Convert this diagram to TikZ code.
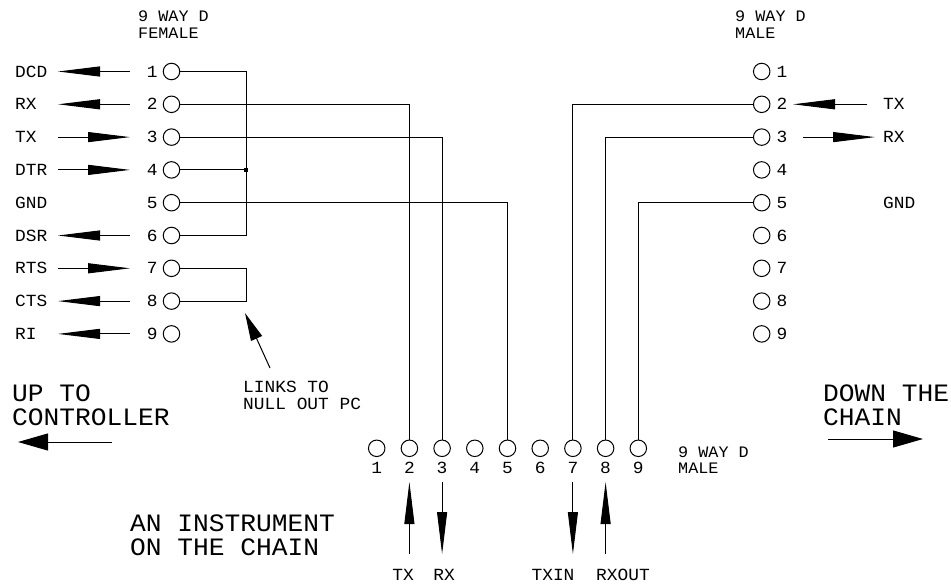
\documentclass[tikz,border=0pt]{standalone}
\usepackage{fontspec}
\setmainfont{Liberation Mono}[FakeStretch=1.05]
\usetikzlibrary{arrows.meta}

\begin{document}
\begin{tikzpicture}[
  x=1pt, y=-1pt,
  pin/.style={circle, draw, line width=1pt, minimum size=16.5pt, inner sep=0pt},
  sig/.style={font=\fontsize{17}{15}\selectfont, inner sep=0pt, align=left},
  head/.style={font=\fontsize{16}{16.5}\selectfont, inner sep=0pt, align=left},
  big/.style={font=\fontsize{25}{24}\selectfont, inner sep=0pt, align=left},
  line/.style={line width=1pt},
  feed/.style={line width=1pt, -{Triangle[length=42pt, width=10pt]}},
  chain/.style={line width=1pt, -{Triangle[length=30pt, width=17pt]}}
]
\useasboundingbox (0,0) rectangle (951,586);

% three connectors
\foreach \i in {1,...,9} {
  \node[pin, label={[sig, label distance=5pt]left:\i}] (fpin\i) at (171.5, 71.5+32.8*\i-32.8) {};
  \node[pin, label={[sig, label distance=6pt]right:\i}] (mpin\i) at (761.7, 71.5+32.8*\i-32.8) {};
  \node[pin, label={[sig, label distance=5pt]below:\i}] (bpin\i) at (376.7+32.7*\i-32.7, 448.3) {};
}
\node[head, anchor=north west] (fhead) at (138,11) {9 WAY D\\FEMALE};
\node[head, anchor=north west] (mhead) at (735,11) {9 WAY D\\MALE};
\node[head, anchor=north west] (bhead) at (678,446.5) {9 WAY D\\MALE};

% female side signals
\node[sig, anchor=west] (dcd) at (15,71.5) {DCD};
\node[sig, anchor=west] (frx) at (15,104.3) {RX};
\node[sig, anchor=west] (ftx) at (15,137.1) {TX};
\node[sig, anchor=west] (dtr) at (15,169.9) {DTR};
\node[sig, anchor=west] (fgnd) at (15,202.7) {GND};
\node[sig, anchor=west] (dsr) at (15,235.5) {DSR};
\node[sig, anchor=west] (rts) at (15,268.3) {RTS};
\node[sig, anchor=west] (cts) at (15,301.1) {CTS};
\node[sig, anchor=west] (ri) at (15,333.9) {RI};
\coordinate (fout) at (58,0);
\coordinate (fin) at (130,0);
\draw[feed] (fpin1 -| fin) -- (fpin1 -| fout);
\draw[feed] (fpin2 -| fin) -- (fpin2 -| fout);
\draw[feed] (fpin3 -| fout) -- (fpin3 -| fin);
\draw[feed] (fpin4 -| fout) -- (fpin4 -| fin);
\draw[feed] (fpin6 -| fin) -- (fpin6 -| fout);
\draw[feed] (fpin7 -| fout) -- (fpin7 -| fin);
\draw[feed] (fpin8 -| fin) -- (fpin8 -| fout);
\draw[feed] (fpin9 -| fin) -- (fpin9 -| fout);

% links on the female side
\coordinate (bus) at (246,0);
\draw[line] (fpin1.east) -- (fpin1 -| bus) |- (fpin6.east);
\draw[line] (fpin4.east) -- (fpin4 -| bus);
\node[fill, minimum size=4pt, inner sep=0pt] (dot) at (fpin4 -| bus) {};
\draw[line] (fpin7.east) -- (fpin7 -| bus) |- (fpin8.east);
\node[sig, anchor=north west, font=\fontsize{17}{17}\selectfont] (links) at (243,380.5) {LINKS TO\\NULL OUT PC};
\coordinate (linktail) at (270,368);
\coordinate (linktip) at (245,313);
\draw[line width=1pt, -{Triangle[length=28pt, width=12pt]}] (linktail) -- (linktip);

% wiring to the instrument
\draw[line] (fpin2.east) -| (bpin2.north);
\draw[line] (fpin3.east) -| (bpin3.north);
\draw[line] (fpin5.east) -| (bpin5.north);
\draw[line] (mpin2.west) -| (bpin7.north);
\draw[line] (mpin3.west) -| (bpin8.north);
\draw[line] (mpin5.west) -| (bpin9.north);

% male side signals
\node[sig, anchor=west] (mtx) at (883,104.3) {TX};
\node[sig, anchor=west] (mrx) at (883,137.1) {RX};
\node[sig, anchor=west] (mgnd) at (883,202.7) {GND};
\draw[feed] (867,104.3) coordinate (mtxtail) -- (793,104.3) coordinate (mtxtip);
\draw[feed] (803,137.1) coordinate (mrxtail) -- (875,137.1) coordinate (mrxtip);

% instrument pins
\coordinate (btop) at (0,482);
\coordinate (bbot) at (0,554);
\draw[feed] (bpin2 |- bbot) -- (bpin2 |- btop);
\draw[feed] (bpin3 |- btop) -- (bpin3 |- bbot);
\draw[feed] (bpin7 |- btop) -- (bpin7 |- bbot);
\draw[feed] (bpin8 |- bbot) -- (bpin8 |- btop);
\node[sig] (btx) at (403,575) {TX};
\node[sig] (brx) at (444,575) {RX};
\node[sig] (txin) at (553,575) {TXIN};
\node[sig] (rxout) at (623,575) {RXOUT};

% chain directions
\node[big, anchor=north west] (up) at (12,384.5) {UP TO\\CONTROLLER};
\node[big, anchor=north west] (down) at (823,384.5) {DOWN THE\\CHAIN};
\node[big, anchor=north west] (inst) at (130,514.5) {AN INSTRUMENT\\ON THE CHAIN};
\coordinate (uptail) at (112,442);
\coordinate (uptip) at (18,442);
\draw[chain] (uptail) -- (uptip);
\coordinate (downtail) at (828,439);
\coordinate (downtip) at (923,439);
\draw[chain] (downtail) -- (downtip);
\end{tikzpicture}
\end{document}
